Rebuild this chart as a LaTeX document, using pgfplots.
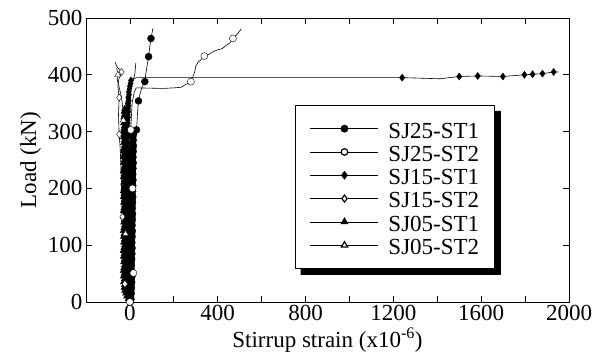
\documentclass[border=0pt]{standalone}
\usepackage{pgfplots}
\usepackage{pgfplotstable}
\pgfplotsset{compat=1.18}
\usepackage{fontspec}
\setmainfont{Liberation Serif}
\newcommand{\bigfont}{\fontsize{23}{25}\selectfont}
% SJ25-ST1 near-zero column
\pgfplotstableread{
x y
2 0
5 5
3 10
6 15
4 20
7 25
5 30
8 35
6 40
9 45
5 50
8 55
4 60
7 65
5 70
8 75
6 80
9 85
7 90
10 95
6 100
9 105
7 110
10 115
8 120
11 125
7 130
10 135
8 140
11 145
9 150
12 155
8 160
11 165
9 170
12 175
10 180
13 185
9 190
12 195
10 200
13 205
11 210
14 215
10 220
13 225
11 230
14 235
12 240
15 245
11 250
14 255
12 260
15 265
13 270
16 275
12 280
15 285
13 290
16 295
}\colA
% SJ15-ST1 near-zero column
\pgfplotstableread{
x y
0 0
-6 5
-10 10
-8 15
-12 20
-9 25
-13 30
-10 35
-14 40
-11 45
-8 50
-12 55
-9 60
-13 65
-10 70
-14 75
-11 80
-8 85
-12 90
-9 95
-13 100
-10 105
-14 110
-11 115
-8 120
-12 125
-9 130
-13 135
-10 140
-14 145
-11 150
-8 155
-12 160
-9 165
-13 170
-10 175
-14 180
-11 185
-8 190
-12 195
-9 200
-13 205
-10 210
-14 215
-11 220
-8 225
-12 230
-9 235
-13 240
-10 245
-14 250
-11 255
-8 260
-12 265
-9 270
-13 275
-10 280
-14 285
-11 290
-8 295
-12 300
-9 305
-13 310
-10 315
-11 320
-8 325
-10 330
-7 335
-9 340
-6 345
-8 350
-5 355
-7 360
-4 365
-5 370
-2 375
0 380
3 385
5 390
}\colC
% SJ05-ST1 near-zero column
\pgfplotstableread{
x y
0 0
-8 5
-15 10
-20 15
-24 20
-27 25
-25 30
-29 35
-26 40
-30 45
-27 50
-31 55
-28 60
-25 65
-29 70
-26 75
-30 80
-27 85
-31 90
-28 95
-25 100
-29 105
-26 110
-30 115
-27 120
-31 125
-28 130
-25 135
-29 140
-26 145
-30 150
-27 155
-31 160
-28 165
-25 170
-29 175
-26 180
-30 185
-27 190
-31 195
-28 200
-25 205
-29 210
-26 215
-30 220
-27 225
-31 230
-28 235
-25 240
-29 245
-26 250
-30 255
-27 260
-31 265
-28 270
-25 275
-29 280
-26 285
-30 290
-27 295
-31 300
-28 305
-25 310
-29 315
-26 320
-28 325
-25 330
-27 335
-24 340
}\colE
\begin{document}
\begin{tikzpicture}
\begin{axis}[
  scale only axis,
  width=483pt, height=284pt,
  xmin=-200, xmax=2000, ymin=0, ymax=500,
  xtick={0,400,...,2000},
  minor xtick={200,600,1000,1400,1800},
  ytick={0,100,...,500},
  tick align=inside,
  major tick length=6pt, minor tick length=6pt,
  axis line style={line width=0.8pt},
  every tick/.style={black, line width=0.8pt},
  every minor tick/.style={black, line width=0.8pt},
  /pgf/number format/assume math mode=true,
  /pgf/number format/set thousands separator={},
  tick label style={font=\bigfont},
  label style={font=\bigfont},
  xlabel={Stirrup strain (x10\textsuperscript{-6})},
  ylabel={Load (kN)},
  legend style={name=LL, at={(axis cs:750,347)}, anchor=north west, draw=black, line width=1.2pt, fill=white,
    font=\bigfont, inner xsep=15pt, inner ysep=11.5pt, row sep=0pt, column sep=9.7pt,
    nodes={inner sep=0pt, text height=21pt, text depth=2.3pt}},
  legend cell align=left,
  legend image code/.code={\draw[black, line width=0.6pt] (0pt,0pt) -- (68pt,0pt); \draw[#1] plot coordinates {(34pt,0pt)};},
  ln/.style={black, line width=0.6pt, no marks, forget plot},
  mk/.style={black, only marks, mark size=3.5pt, forget plot},
]
\coordinate (bl) at (rel axis cs:0,0);
\coordinate (tr) at (rel axis cs:1,1);
% ---- lines ----
% SJ25-ST1
\addplot[ln] table[x=x,y=y] {\colA};
\addplot[ln] coordinates {(16,295)(25,300)(30,303)(33,320)(36,340)(39,354)(45,365)(55,378)(68,388)(72,400)(78,415)(85,432)(90,448)(96,464)(105,482)};
% SJ25-ST2
\addplot[ln] coordinates {(0,0)(5,20)(10,40)(16,51)(12,80)(14,110)(13,140)(15,170)(12,200)(14,230)(10,260)(8,290)(4,303)(6,320)(10,350)(20,370)(29,377)(150,376)(200,377)(233,378)(250,382)(265,385)(278,388)(288,398)(295,405)(300,415)(310,422)(325,427)(339,433)(360,436)(380,441)(400,444)(420,446)(440,452)(455,456)(469,464)(485,470)(500,477)(507,481)};
% SJ15-ST1
\addplot[ln] table[x=x,y=y] {\colC};
\addplot[ln] coordinates {(5,390)(29,395)(1240,395)(1412,393)(1500,397)(1584,398)(1699,397)(1797,400)(1834,401)(1879,402)(1930,405)(1952,405)};
% SJ15-ST2
\addplot[ln] coordinates {(0,0)(-10,15)(-23,32)(-25,60)(-28,100)(-31,125)(-34,150)(-36,175)(-38,200)(-40,225)(-42,250)(-45,275)(-49,295)(-52,330)(-49,360)(-55,380)(-50,393)(-38,405)(-60,415)(-67,422)};
% SJ05-ST1
\addplot[ln] table[x=x,y=y] {\colE};
\addplot[ln] coordinates {(-24,340)(-15,360)(0,375)(10,385)(22,400)(27,421)};
% SJ05-ST2
\addplot[ln] coordinates {(0,0)(-8,20)(-14,40)(-16,60)(-18,80)(-17,100)(-20,120)(-19,140)(-22,160)(-21,180)(-24,200)(-23,220)(-26,240)(-25,260)(-28,280)(-27,300)(-30,320)(-32,340)(-38,360)(-50,380)(-58,392)(-55,400)(-60,412)};
% ---- marks ----
\addplot[mk, mark=triangle*] table[x=x,y=y] {\colE};
\addplot[mk, mark=diamond*] table[x=x,y=y] {\colC};
\addplot[mk, mark=diamond*] coordinates {(1240,395)(1500,397)(1584,398)(1699,397)(1797,400)(1834,401)(1879,402)(1930,405)};
\addplot[mk, mark=*] table[x=x,y=y] {\colA};
\addplot[mk, mark=*] coordinates {(30,303)(39,354)(68,388)(85,432)(96,464)};
\addplot[mk, mark=*, mark options={fill=white}] coordinates {(0,0)(16,51)(12,200)(4,303)(278,388)(339,433)(469,464)};
\addplot[mk, mark=diamond*, mark options={fill=white}] coordinates {(-23,32)(-34,150)(-49,295)(-49,360)(-38,405)};
\addplot[mk, mark=triangle*, mark options={fill=white}] coordinates {(-20,120)(-30,320)(-55,400)};
% ---- legend ----
\addlegendimage{only marks, mark=*, mark size=3.3pt, black}
\addlegendentry{SJ25-ST1}
\addlegendimage{only marks, mark=*, mark size=3.3pt, black, mark options={fill=white}}
\addlegendentry{SJ25-ST2}
\addlegendimage{only marks, mark=diamond*, mark size=3.5pt, black}
\addlegendentry{SJ15-ST1}
\addlegendimage{only marks, mark=diamond*, mark size=3.5pt, black, mark options={fill=white}}
\addlegendentry{SJ15-ST2}
\addlegendimage{only marks, mark=triangle*, mark size=3.5pt, black}
\addlegendentry{SJ05-ST1}
\addlegendimage{only marks, mark=triangle*, mark size=3.5pt, black, mark options={fill=white}}
\addlegendentry{SJ05-ST2}
\end{axis}
\fill[black] ([shift={(6pt,0pt)}]LL.south west) -- ([shift={(6pt,-6pt)}]LL.south west) -- ([shift={(6pt,-6pt)}]LL.south east) -- ([shift={(6pt,-6pt)}]LL.north east) -- ([shift={(0pt,-6pt)}]LL.north east) -- (LL.south east) -- cycle;
\pgfresetboundingbox
\path ([shift={(-86pt,-61pt)}]bl) rectangle ([shift={(32pt,18pt)}]tr);
\end{tikzpicture}
\end{document}
